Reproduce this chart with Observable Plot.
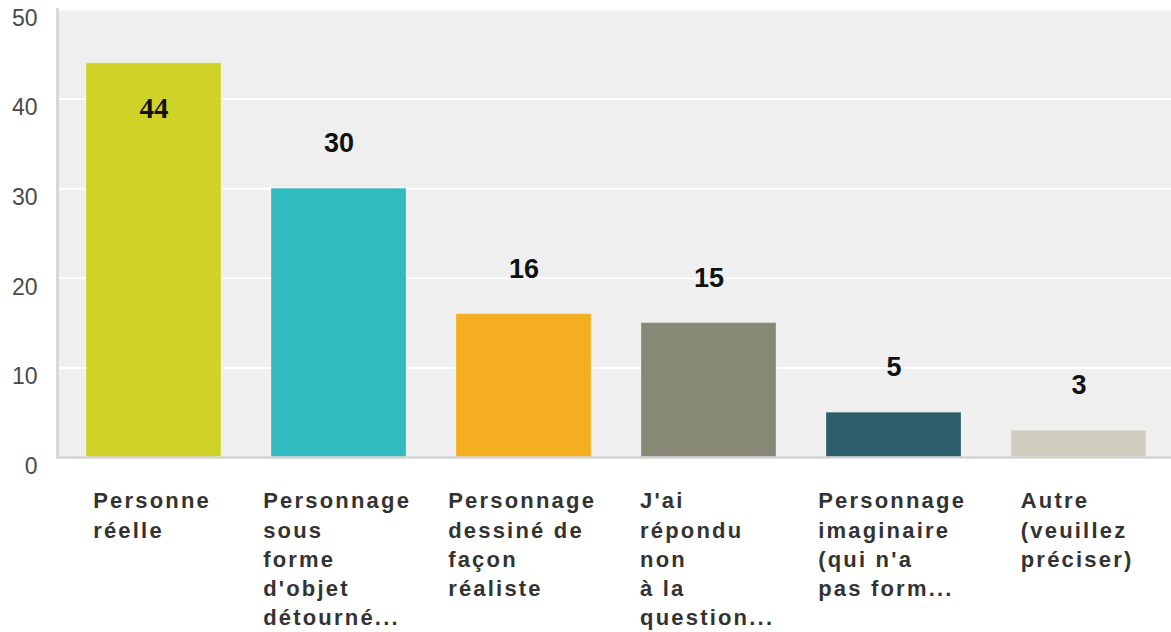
<!DOCTYPE html>
<html>
<head>
<meta charset="utf-8">
<script src="https://cdn.jsdelivr.net/npm/d3@7"></script>
<script src="https://cdn.jsdelivr.net/npm/@observablehq/plot@0.6"></script>
<style>
  html, body { margin: 0; padding: 0; background: #fff; }
  g[aria-label="x-axis tick label"] text { letter-spacing: 2.2px; }
</style>
</head>
<body>
<div id="chart"></div>
<script>
const categories = ["Personne réelle", "Personnage sous forme d'objet détourné...", "Personnage dessiné de façon réaliste", "J'ai répondu non à la question...", "Personnage imaginaire (qui n'a pas form...", "Autre (veuillez préciser)"];
const labelLines = [
  ["Personne", "réelle"],
  ["Personnage", "sous", "forme", "d'objet", "détourné..."],
  ["Personnage", "dessiné de", "façon", "réaliste"],
  ["J'ai", "répondu", "non", "à la", "question..."],
  ["Personnage", "imaginaire", "(qui n'a", "pas form..."],
  ["Autre", "(veuillez", "préciser)"]
];
const values = [44, 30, 16, 15, 5, 3];
const colors = ["#cfd328", "#32bbbf", "#f5ae1f", "#888876", "#2d5e6c", "#d0cebf"];
const yTicks = [0, 10, 20, 30, 40, 50];

const labelFont = "Liberation Sans, Arial, sans-serif";
const labelSize = 22;
const letterSpacing = 2.2;

const data = categories.map((c, i) => ({category: c, value: values[i], color: colors[i], lines: labelLines[i]}));
const inside = data.filter(d => d.value >= 40);
const above = data.filter(d => d.value < 40);

// measure each label block so it is centred under its bar, lines left-aligned
const ctx = document.createElement("canvas").getContext("2d");
ctx.font = `bold ${labelSize}px "Liberation Sans", Arial, sans-serif`;
function blockWidth(lines) {
  return Math.max(...lines.map(l => ctx.measureText(l).width + letterSpacing * (l.length - 1)));
}

const xAxes = data.map(d => Plot.axisX([d.category], {
  tickSize: 0,
  tickPadding: 30,
  textAnchor: "start",
  dx: -blockWidth(d.lines) / 2 - 3,
  lineHeight: 1.33,
  fontSize: labelSize,
  fontWeight: "bold",
  fill: "#333",
  fontFamily: labelFont,
  tickFormat: () => d.lines.join("\n"),
  label: null
}));

const chart = Plot.plot({
  width: 1171,
  height: 632,
  marginLeft: 57,
  marginRight: -4,
  marginTop: 9,
  marginBottom: 175,
  style: {background: "#fff"},
  x: {domain: categories, paddingInner: 0.27, paddingOuter: 0.15},
  y: {domain: [0, 50]},
  marks: [
    Plot.frame({fill: "#efefef", stroke: "none"}),
    Plot.gridY(yTicks, {stroke: "#ffffff", strokeOpacity: 1, strokeWidth: 2}),
    Plot.barY(data, {x: "category", y: "value", fill: "color", stroke: "#ffffff", strokeOpacity: 0.25, strokeWidth: 1}),
    Plot.ruleY([0], {stroke: "#d4d4d4", strokeWidth: 2.5}),
    Plot.frame({anchor: "left", stroke: "#d9d9d9", strokeWidth: 3}),
    Plot.axisY(yTicks, {tickSize: 0, tickPadding: 20, dy: 9, fontSize: 23, fill: "#4a4a4a", fontFamily: labelFont, label: null}),
    ...xAxes,
    Plot.text(above, {x: "category", y: "value", text: d => String(d.value), dy: -45, fontSize: 27, fontWeight: "bold", fill: "#111", fontFamily: labelFont}),
    Plot.text(inside, {x: "category", y: "value", text: d => String(d.value), dy: 45, fontSize: 29, fontWeight: "bold", fill: "#111", fontFamily: "'Liberation Serif', 'DejaVu Serif', serif"})
  ]
});
document.getElementById("chart").appendChild(chart);
</script>
</body>
</html>
